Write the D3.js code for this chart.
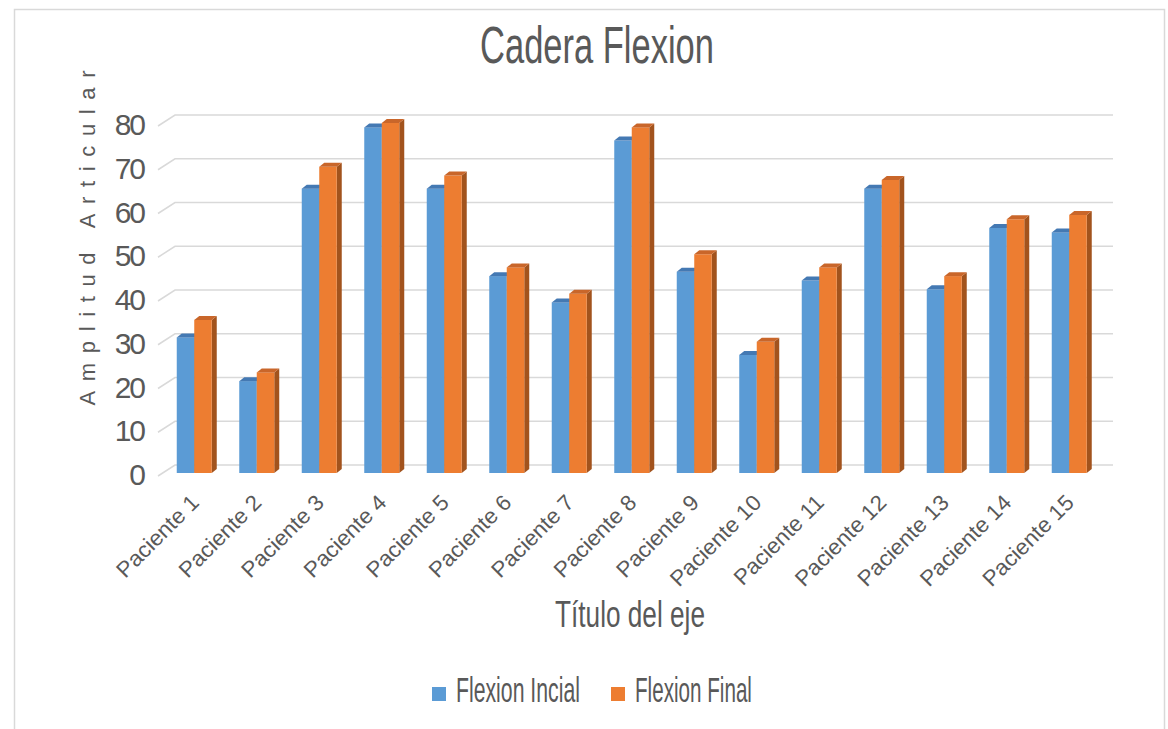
<!DOCTYPE html>
<html>
<head>
<meta charset="utf-8">
<script src="https://cdn.jsdelivr.net/npm/d3@7"></script>
<style>
  html, body { margin: 0; padding: 0; background: #ffffff; }
  svg { display: block; }
  text { font-family: "Liberation Sans Narrow", "Liberation Sans", Arial, sans-serif; fill: #595959; }
</style>
</head>
<body>
<svg id="chart" width="1168" height="729"></svg>
<script>
// Patients and the two hip flexion measurements (degrees)
const categories = ["Paciente 1", "Paciente 2", "Paciente 3", "Paciente 4", "Paciente 5",
  "Paciente 6", "Paciente 7", "Paciente 8", "Paciente 9", "Paciente 10",
  "Paciente 11", "Paciente 12", "Paciente 13", "Paciente 14", "Paciente 15"];
const flexionInicial = [31, 21, 65, 79, 65, 45, 39, 76, 46, 27, 44, 65, 42, 56, 55];
const flexionFinal   = [35, 23, 70, 80, 68, 47, 41, 79, 50, 30, 47, 67, 45, 58, 59];
const seriesNames = ["Flexion Incial", "Flexion Final"];
const yTicks = [0, 10, 20, 30, 40, 50, 60, 70, 80];

const series = [
  { name: seriesNames[0], values: flexionInicial, front: "#5b9bd5", top: "#4479b3", side: "#3d6e9f" },
  { name: seriesNames[1], values: flexionFinal,   front: "#ed7d31", top: "#c9662a", side: "#a2531d" }
];

const svg = d3.select("#chart");

// Squeeze a text horizontally so it spans the given width
function fitWidth(sel, width, x, yPos, extra) {
  const len = sel.node().getComputedTextLength();
  sel.attr("transform", `translate(${x},${yPos})${extra || ""} scale(${width / len},1)`);
}

// Chart frame
svg.append("rect")
  .attr("x", 14.5).attr("y", 9.5).attr("width", 1150).attr("height", 740)
  .attr("fill", "none").attr("stroke", "#d9d9d9").attr("stroke-width", 1.5);

// Scales
const y = d3.scaleLinear().domain([0, 80]).range([473, 123]);
const x0 = d3.scaleBand().domain(categories).range([163, 1100.5]);
const x1 = d3.scaleBand().domain(seriesNames).range([0, x0.bandwidth()]).paddingOuter(0.786);

// 3D depth offsets
const wallDx = 17, wallDy = 11;   // back wall relative to front plane
const barDx = 5, barDy = 4;       // bar depth

// Gridlines on the back wall with the slanted side-wall stubs
const grid = svg.append("g");
yTicks.forEach(v => {
  const yb = y(v) - 8;
  grid.append("path")
    .attr("d", `M158,${yb + wallDy} L${158 + wallDx},${yb} L1113,${yb}`)
    .attr("fill", "none").attr("stroke", "#d9d9d9").attr("stroke-width", 1.5);
});

// Y axis labels
const yAxis = d3.axisLeft(y).tickValues(yTicks).tickSize(0).tickPadding(0);
const yAxisG = svg.append("g").attr("transform", "translate(144,2)").call(yAxis);
yAxisG.select(".domain").remove();
yAxisG.selectAll("text")
  .attr("font-size", 30)
  .attr("letter-spacing", -2)
  .style("font-family", '"Liberation Sans Narrow", "Liberation Sans", Arial, sans-serif')
  .attr("fill", "#595959");

// Bars drawn as front face, top face and right side face
const barW = x1.bandwidth();
series.forEach(s => {
  const g = svg.append("g");
  categories.forEach((c, i) => {
    const v = s.values[i];
    const bx = x0(c) + x1(s.name);
    const yt = y(v), yb = y(0);
    g.append("path")
      .attr("d", `M${bx + barW},${yt} L${bx + barW + barDx},${yt - barDy} L${bx + barW + barDx},${yb - barDy} L${bx + barW},${yb} Z`)
      .attr("fill", s.side);
    g.append("rect")
      .attr("x", bx).attr("y", yt).attr("width", barW).attr("height", yb - yt)
      .attr("fill", s.front);
    g.append("path")
      .attr("d", `M${bx},${yt} L${bx + barDx},${yt - barDy} L${bx + barW + barDx},${yt - barDy} L${bx + barW},${yt} Z`)
      .attr("fill", s.top);
  });
});

// X axis category labels, rotated
const xLab = svg.append("g");
const labels = xLab.selectAll("text").data(categories).join("text")
  .attr("font-size", 22)
  .attr("text-anchor", "end")
  .text(d => d);
const k = 106 / labels.node().getComputedTextLength();
labels.attr("transform", d =>
  `translate(${x0(d) + x0.bandwidth() / 2 + 6},504) rotate(-45) scale(${k},1)`);

// Title
const title = svg.append("text")
  .attr("text-anchor", "middle")
  .attr("font-size", 52)
  .text("Cadera Flexion");
fitWidth(title, 234, 597, 63);

// Axis titles
const xTitle = svg.append("text")
  .attr("text-anchor", "middle")
  .attr("font-size", 37)
  .text("Título del eje");
fitWidth(xTitle, 150, 630, 627);

svg.append("text")
  .attr("transform", "translate(95,238) rotate(-90)")
  .attr("text-anchor", "middle")
  .attr("font-size", 22)
  .attr("textLength", 335).attr("lengthAdjust", "spacing")
  .text("Amplitud Articular");

// Legend
const legendPos = [{ sx: 432, tx: 456, w: 124 }, { sx: 611, tx: 635, w: 117 }];
series.forEach((s, i) => {
  const p = legendPos[i];
  svg.append("rect")
    .attr("x", p.sx).attr("y", 687).attr("width", 14).attr("height", 14)
    .attr("fill", s.front);
  const t = svg.append("text")
    .attr("font-size", 36)
    .text(s.name);
  fitWidth(t, p.w, p.tx, 702);
});
</script>
</body>
</html>
